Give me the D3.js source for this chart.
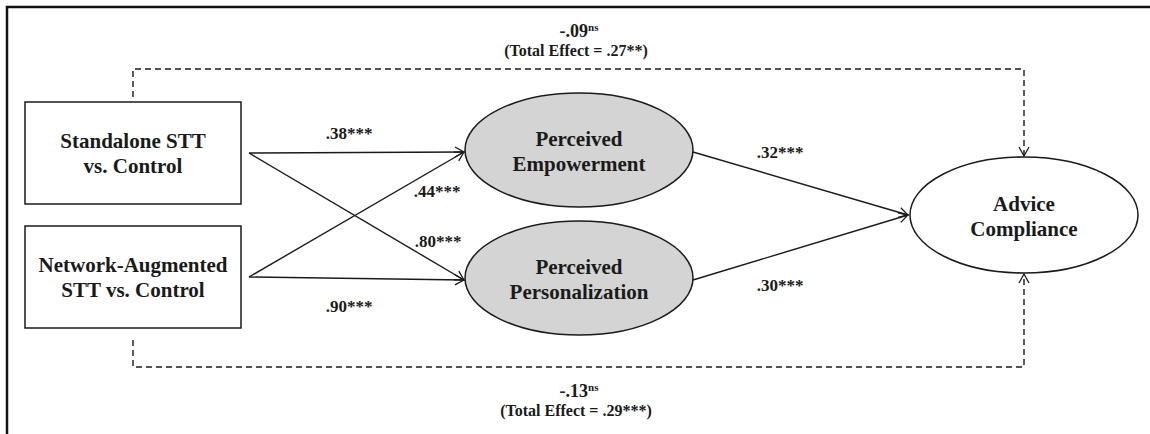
<!DOCTYPE html>
<html>
<head>
<meta charset="utf-8">
<script src="https://cdn.jsdelivr.net/npm/d3@7"></script>
<style>
  html, body { margin: 0; padding: 0; background: #fff; }
  svg { display: block; }
</style>
</head>
<body>
<svg id="chart" width="1150" height="434"></svg>
<script>
// Path model: two treatment contrasts -> two mediators -> advice compliance
const predictors = ["Standalone STT|vs. Control", "Network-Augmented|STT vs. Control"];
const mediators = ["Perceived|Empowerment", "Perceived|Personalization"];
const outcome = ["Advice|Compliance"];

// a-paths: [predictor, mediator, coefficient]
const aPaths = [
  [0, 0, ".38***"],
  [0, 1, ".80***"],
  [1, 0, ".44***"],
  [1, 1, ".90***"]
];
// b-paths: [mediator, coefficient]
const bPaths = [
  [0, ".32***"],
  [1, ".30***"]
];
// direct effects: [predictor, coefficient, significance, total effect]
const directPaths = [
  [0, "-.09", "ns", "(Total Effect = .27**)"],
  [1, "-.13", "ns", "(Total Effect = .29***)"]
];

const FONT = "'Liberation Serif', 'Times New Roman', Times, serif";
const INK = "#1a1a1a";

const svg = d3.select("#chart")
  .attr("font-family", FONT)
  .attr("font-weight", "bold");

// layout scales
const colX = d3.scaleOrdinal().domain(["pred", "med", "out"]).range([133, 579, 1024]);
const rowY = d3.scaleLinear().domain([0, 1]).range([152, 280]);
const boxW = 216, boxH = 102, medRx = 114, medRy = 57, outRx = 114, outRy = 58;
const outY = 215;
const predY = i => [153, 277][i];

// outer frame
svg.append("path")
  .attr("d", "M7,434 L7,7 L1150,7")
  .attr("fill", "none").attr("stroke", "#111").attr("stroke-width", 2.5);

const defs = svg.append("defs");
defs.append("marker")
  .attr("id", "arrow").attr("viewBox", "-1 -6 12 12")
  .attr("refX", 9).attr("refY", 0)
  .attr("markerWidth", 12).attr("markerHeight", 12)
  .attr("markerUnits", "userSpaceOnUse")
  .attr("orient", "auto")
  .append("path").attr("d", "M0,-5 L9,0 L0,5")
  .attr("fill", "none").attr("stroke", INK).attr("stroke-width", 1.3);

function label(g, x, y, size) {
  return g.append("text")
    .attr("text-anchor", "middle")
    .attr("x", x).attr("y", y)
    .attr("font-family", FONT)
    .attr("font-weight", "bold")
    .attr("font-size", size)
    .attr("fill", INK);
}

function multiline(g, text, x, y, size, gap) {
  const t = label(g, x, y, size);
  text.split("|").forEach((l, i) => {
    t.append("tspan").attr("x", x).attr("y", y + i * gap).text(l);
  });
}

// dashed direct-effect paths
const dashTop = 69, dashBot = 367;
directPaths.forEach((d, i) => {
  const x0 = colX("pred"), x1 = colX("out");
  const yStart = i === 0 ? 97 : 340;
  const yLine = i === 0 ? dashTop : dashBot;
  const yEnd = i === 0 ? outY - outRy - 1 : outY + outRy + 1;
  svg.append("path")
    .attr("d", `M${x0},${yStart} L${x0},${yLine} L${x1},${yLine} L${x1},${yEnd}`)
    .attr("fill", "none").attr("stroke", INK).attr("stroke-width", 1.4)
    .attr("stroke-dasharray", "6,4")
    .attr("marker-end", "url(#arrow)");

  const cx = 579;
  const ty = i === 0 ? 37 : 397;
  const t = label(svg, cx, ty, 18);
  t.append("tspan").text(d[1]);
  t.append("tspan").text(d[2]).attr("font-size", 11).attr("dy", -6);
  label(svg, cx - 3, ty + 19, 16).text(d[3]);
});

// solid arrows a-paths
const predRight = colX("pred") + boxW / 2 + 8;
aPaths.forEach(d => {
  const [p, m] = d;
  svg.append("line")
    .attr("x1", predRight).attr("y1", predY(p))
    .attr("x2", colX("med") - medRx - 1).attr("y2", rowY(m))
    .attr("stroke", INK).attr("stroke-width", 1.4)
    .attr("marker-end", "url(#arrow)");
});

// a-path labels
const aLabelPos = {"0-0": [349, 139], "0-1": [438, 247], "1-0": [437, 197], "1-1": [349, 312]};
aPaths.forEach(d => {
  const pos = aLabelPos[d[0] + "-" + d[1]];
  label(svg, pos[0], pos[1], 17).text(d[2]);
});

// b-paths
bPaths.forEach(d => {
  const [m] = d;
  svg.append("line")
    .attr("x1", colX("med") + medRx).attr("y1", rowY(m))
    .attr("x2", colX("out") - outRx - 2).attr("y2", outY)
    .attr("stroke", INK).attr("stroke-width", 1.4)
    .attr("marker-end", "url(#arrow)");
  label(svg, 780, m === 0 ? 158 : 291, 17).text(d[1]);
});

// predictor boxes
predictors.forEach((p, i) => {
  const g = svg.append("g");
  const cy = predY(i);
  g.append("rect")
    .attr("x", colX("pred") - boxW / 2).attr("y", cy - boxH / 2)
    .attr("width", boxW).attr("height", boxH)
    .attr("fill", "#fff").attr("stroke", INK).attr("stroke-width", 1.5);
  multiline(g, p, colX("pred"), cy - 5, 21, 25);
});

// mediator ellipses
mediators.forEach((m, i) => {
  const g = svg.append("g");
  const cy = rowY(i) - 2;
  g.append("ellipse")
    .attr("cx", colX("med")).attr("cy", cy)
    .attr("rx", medRx).attr("ry", medRy)
    .attr("fill", "#d4d4d4").attr("stroke", INK).attr("stroke-width", 1.5);
  multiline(g, m, colX("med"), cy - 4, 21, 25);
});

// outcome ellipse
{
  const g = svg.append("g");
  g.append("ellipse")
    .attr("cx", colX("out")).attr("cy", outY)
    .attr("rx", outRx).attr("ry", outRy)
    .attr("fill", "#fff").attr("stroke", INK).attr("stroke-width", 1.5);
  multiline(g, outcome[0], colX("out"), outY - 4, 21, 25);
}
</script>
</body>
</html>
